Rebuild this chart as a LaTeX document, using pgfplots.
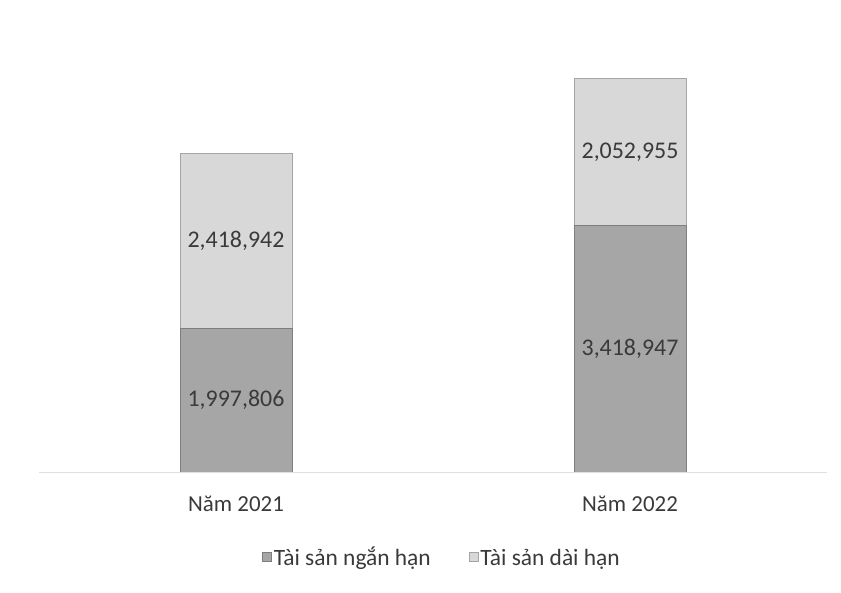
\documentclass[border=0pt]{standalone}
\usepackage{pgfplots}
\pgfplotsset{compat=1.18}
\usepackage{fontspec}
\setmainfont{Carlito}
\definecolor{nganhan}{HTML}{A6A6A6}
\definecolor{daihan}{HTML}{D8D8D8}
\definecolor{edge}{HTML}{7E7E7E}
\definecolor{txt}{HTML}{3A3A3A}
\pgfplotsset{
  frame/.style={
    at={(39bp,121bp)}, anchor=south west,
    scale only axis, width=788bp, height=432bp,
    xmin=-0.5, xmax=1.5, ymin=0, ymax=6000000,
  }
}
\begin{document}
\begin{tikzpicture}
\useasboundingbox (0,0) rectangle (841bp,593bp);
\begin{axis}[
  frame,
  ybar stacked, bar width=112bp,
  axis y line=none,
  axis x line*=bottom,
  x axis line style={draw=black!12, line width=1bp, -},
  xtick={0,1}, xticklabels={Năm 2021, Năm 2022},
  major tick length=0pt,
  xticklabel style={font=\fontsize{23}{27}\selectfont, text=txt, yshift=-21bp},
  legend style={at={(0.5+9/788,-88/432)}, anchor=center, draw=none, fill=none,
    font=\fontsize{23.5}{27}\selectfont, text=txt, legend columns=2,
    nodes={text height=17bp, text depth=6bp},
    /tikz/every even column/.append style={column sep=36bp}},
  legend image code/.code={\draw[#1, line width=0.6bp] (-4bp,-1bp) rectangle (5bp,8bp);},
]
\addplot[fill=nganhan, draw=edge, line width=1bp] coordinates {(0,1997806) (1,3418947)};
\addlegendentry{Tài sản ngắn hạn}
\addplot[fill=daihan, draw=edge!70, line width=1bp] coordinates {(0,2418942) (1,2052955)};
\addlegendentry{Tài sản dài hạn}
\end{axis}
% value labels, centred in each segment
\begin{axis}[frame, hide axis]
\addplot[draw=none, mark=none,
  point meta=explicit symbolic, nodes near coords,
  every node near coord/.append style={anchor=center, text=txt, font=\fontsize{24}{28}\selectfont}]
  coordinates {(0,998903) [1,997,806] (0,3207277) [2,418,942]
               (1,1709474) [3,418,947] (1,4445425) [2,052,955]};
\end{axis}
\end{tikzpicture}
\end{document}
